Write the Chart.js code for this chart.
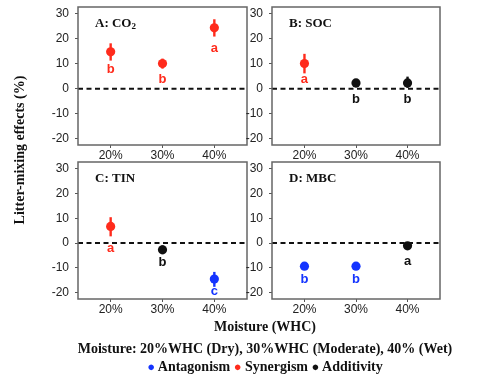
<!DOCTYPE html>
<html>
<head>
<meta charset="utf-8">
<script src="https://cdn.jsdelivr.net/npm/chart.js@4/dist/chart.umd.min.js"></script>
<style>
  html, body { margin:0; padding:0; background:#fff; }
  body { width:500px; height:375px; position:relative; overflow:hidden; }
  canvas { position:absolute; }
  .t { position:absolute; font-family:"Liberation Serif","Times New Roman",serif; font-weight:bold; color:#111; white-space:nowrap; }
</style>
</head>
<body>
<canvas id="cA"></canvas>
<canvas id="cB"></canvas>
<canvas id="cC"></canvas>
<canvas id="cD"></canvas>
<div class="t" style="left:0;top:0;width:40px;height:300px;">
  <div style="position:absolute;left:20px;top:150px;transform:translate(-50%,-50%) rotate(-90deg);font-size:14px;">Litter-mixing effects (%)</div>
</div>
<div class="t" style="left:0;width:530px;top:319px;text-align:center;font-size:14px;">Moisture (WHC)</div>
<div class="t" style="left:0;width:530px;top:341px;text-align:center;font-size:14px;">Moisture: 20%WHC (Dry), 30%WHC (Moderate), 40% (Wet)</div>
<div class="t" id="legend" style="left:0;width:530px;top:359px;text-align:center;font-size:14px;"></div>
<script>
// ---- data ----
const moistureLabels = ['20%', '30%', '40%'];
const moistureX = [1, 2, 3];
const yTicks = [-20, -10, 0, 10, 20, 30];

const effectNames = ['Antagonism', 'Synergism', 'Additivity'];
const effectColors = ['#1434FF', '#FF2B1C', '#111111'];

const co2Mean = [14.7, 10.0, 24.3];
const co2Low = [11.2, 8.0, 20.8];
const co2High = [18.1, 12.0, 27.7];
const co2Letter = ['b', 'b', 'a'];
const co2LetterY = [7.7, 3.7, 16.0];
const co2Effect = ['Synergism', 'Synergism', 'Synergism'];

const socMean = [10.0, 2.3, 2.3];
const socLow = [6.1, 0.5, 0.3];
const socHigh = [13.9, 3.7, 4.8];
const socLetter = ['a', 'b', 'b'];
const socLetterY = [3.7, -4.4, -4.4];
const socEffect = ['Synergism', 'Additivity', 'Additivity'];

const tinMean = [6.7, -2.7, -14.5];
const tinLow = [2.7, -4.5, -17.6];
const tinHigh = [10.4, -0.9, -11.6];
const tinLetter = ['a', 'b', 'c'];
const tinLetterY = [-2.3, -7.6, -19.6];
const tinEffect = ['Synergism', 'Additivity', 'Antagonism'];

const mbcMean = [-9.3, -9.3, -1.1];
const mbcLow = [-9.6, -9.6, -1.4];
const mbcHigh = [-9.0, -9.0, -0.8];
const mbcLetter = ['b', 'b', 'a'];
const mbcLetterY = [-14.5, -14.5, -7.3];
const mbcEffect = ['Antagonism', 'Antagonism', 'Additivity'];

// ---- drawing ----
function colorOf(e) { return effectColors[effectNames.indexOf(e)]; }

const panelPlugin = {
  id: 'panelPlugin',
  beforeDatasetsDraw(chart) {
    const o = chart.options.plugins.panelPlugin;
    const {ctx, chartArea: a, scales: {x, y}} = chart;
    ctx.save();
    ctx.strokeStyle = '#111';
    ctx.lineWidth = 2;
    ctx.setLineDash([5, 3.5]);
    ctx.beginPath();
    ctx.moveTo(a.left, y.getPixelForValue(0));
    ctx.lineTo(a.right, y.getPixelForValue(0));
    ctx.stroke();
    ctx.setLineDash([]);
    ctx.lineWidth = 2.4;
    for (let i = 0; i < o.low.length; i++) {
      ctx.strokeStyle = colorOf(o.effect[i]);
      const px = x.getPixelForValue(moistureX[i]);
      ctx.beginPath();
      ctx.moveTo(px, y.getPixelForValue(o.low[i]));
      ctx.lineTo(px, y.getPixelForValue(o.high[i]));
      ctx.stroke();
    }
    ctx.restore();
  },
  afterDraw(chart) {
    const o = chart.options.plugins.panelPlugin;
    const {ctx, chartArea: a, scales: {x, y}} = chart;
    ctx.save();
    ctx.font = 'bold 13px "Liberation Sans", Arial, sans-serif';
    ctx.textAlign = 'center';
    ctx.textBaseline = 'middle';
    for (let i = 0; i < o.letter.length; i++) {
      ctx.fillStyle = colorOf(o.effect[i]);
      ctx.fillText(o.letter[i], x.getPixelForValue(moistureX[i]), y.getPixelForValue(o.letterY[i]));
    }
    ctx.strokeStyle = '#666';
    ctx.lineWidth = 1.5;
    ctx.strokeRect(a.left, a.top, a.right - a.left, a.bottom - a.top);
    ctx.fillStyle = '#111';
    ctx.textAlign = 'left';
    ctx.textBaseline = 'alphabetic';
    ctx.font = 'bold 13px "Liberation Serif", "Times New Roman", serif';
    const tx = a.left + 17, ty = a.top + 20;
    ctx.fillText(o.title, tx, ty);
    if (o.sub) {
      const w = ctx.measureText(o.title).width;
      ctx.font = 'bold 9px "Liberation Serif", "Times New Roman", serif';
      ctx.fillText(o.sub, tx + w, ty + 2);
    }
    ctx.restore();
  }
};

function zeroPad(s) { s.paddingTop = 0; s.paddingBottom = 0; s.paddingLeft = 0; s.paddingRight = 0; }

function makePanel(id, area, title, sub, mean, low, high, letter, letterY, effect) {
  const padL = 40, padR = 6, padT = 7, padB = 22;
  const cv = document.getElementById(id);
  const w = area.right - area.left + padL + padR;
  const h = area.bottom - area.top + padT + padB;
  cv.width = w; cv.height = h;
  cv.style.left = (area.left - padL) + 'px';
  cv.style.top = (area.top - padT) + 'px';
  cv.style.width = w + 'px'; cv.style.height = h + 'px';
  new Chart(cv, {
    type: 'scatter',
    data: {
      datasets: [{
        data: moistureX.map((v, i) => ({x: v, y: mean[i]})),
        pointRadius: 4.6,
        pointHoverRadius: 4.6,
        pointBorderWidth: 0,
        pointBackgroundColor: effect.map(colorOf),
        pointBorderColor: effect.map(colorOf)
      }]
    },
    options: {
      responsive: false,
      animation: false,
      devicePixelRatio: 1,
      layout: { autoPadding: false, padding: { left: 0, right: padR, top: padT, bottom: 0 } },
      plugins: {
        legend: { display: false },
        tooltip: { enabled: false },
        panelPlugin: { title, sub, low, high, letter, letterY, effect }
      },
      scales: {
        x: {
          type: 'linear', min: 0.37, max: 3.63,
          afterBuildTicks(s) { s.ticks = moistureX.map(v => ({value: v})); },
          afterFit(s) { s.height = padB; zeroPad(s); },
          ticks: {
            callback: (v) => moistureLabels[moistureX.indexOf(v)] || '',
            font: { family: '"Liberation Sans", Arial, sans-serif', size: 12 },
            color: '#222', padding: 0, maxRotation: 0
          },
          grid: { display: true, drawOnChartArea: false, drawTicks: true, tickLength: 3, color: '#555', lineWidth: 1 },
          border: { display: false }
        },
        y: {
          type: 'linear', min: -22.5, max: 32.6,
          afterBuildTicks(s) { s.ticks = yTicks.map(v => ({value: v})); },
          afterFit(s) { s.width = padL; zeroPad(s); },
          ticks: {
            font: { family: '"Liberation Sans", Arial, sans-serif', size: 12 },
            color: '#222', padding: 6
          },
          grid: { display: true, drawOnChartArea: false, drawTicks: true, tickLength: 3, color: '#555', lineWidth: 1 },
          border: { display: false }
        }
      }
    },
    plugins: [panelPlugin]
  });
}

makePanel('cA', {left: 78, right: 247, top: 7, bottom: 145}, 'A: CO', '2', co2Mean, co2Low, co2High, co2Letter, co2LetterY, co2Effect);
makePanel('cB', {left: 272, right: 440, top: 7, bottom: 145}, 'B: SOC', '', socMean, socLow, socHigh, socLetter, socLetterY, socEffect);
makePanel('cC', {left: 78, right: 247, top: 162, bottom: 299}, 'C: TIN', '', tinMean, tinLow, tinHigh, tinLetter, tinLetterY, tinEffect);
makePanel('cD', {left: 272, right: 440, top: 162, bottom: 299}, 'D: MBC', '', mbcMean, mbcLow, mbcHigh, mbcLetter, mbcLetterY, mbcEffect);

const lg = document.getElementById('legend');
lg.innerHTML = effectNames.map((n, i) =>
  '<span style="color:' + effectColors[i] + ';font-family:Liberation Sans,Arial,sans-serif;font-size:13px;">&#9679;</span> ' + n
).join(' ');
</script>
</body>
</html>
